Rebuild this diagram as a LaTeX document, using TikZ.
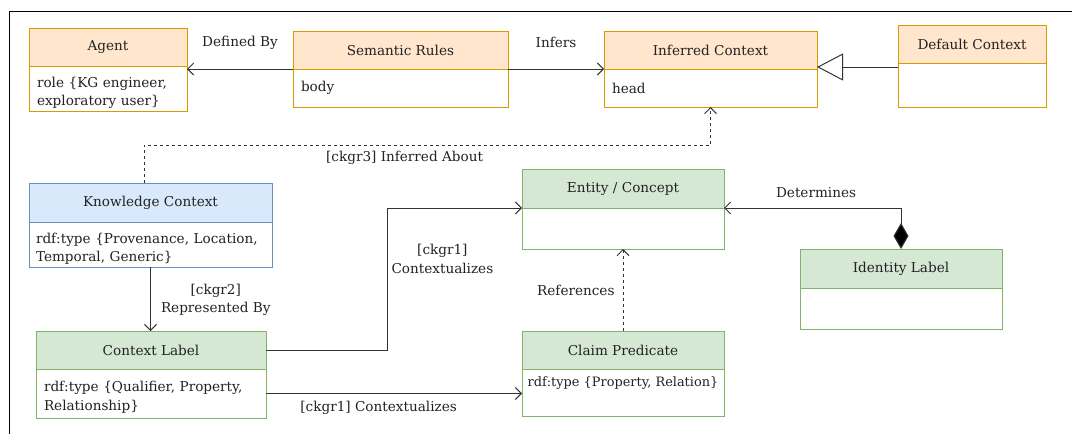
\documentclass[tikz,border=0pt]{standalone}
\usepackage{fontspec}
\setmainfont{DejaVu Serif}
\usetikzlibrary{arrows.meta, positioning}

\definecolor{orngfill}{HTML}{FFE6CC}
\definecolor{orngline}{HTML}{D79B00}
\definecolor{bluefill}{HTML}{DAE8FC}
\definecolor{blueline}{HTML}{6C8EBF}
\definecolor{grnfill}{HTML}{D5E8D4}
\definecolor{grnline}{HTML}{82B366}
\definecolor{linegray}{HTML}{333333}
\definecolor{txt}{HTML}{222222}

\tikzset{
  hdr/.style={draw=#1line, fill=#1fill, line width=1pt, inner sep=0pt, outer sep=0pt, minimum height=38pt},
  bdy/.style={draw=#1line, fill=white, line width=1pt, inner xsep=8pt, inner ysep=0pt, outer sep=0pt, align=left},
  conn/.style={draw=linegray, line width=1pt, -{Straight Barb[length=6pt,width=12pt]}},
  dconn/.style={conn, dash pattern=on 3pt off 3pt},
  lbl/.style={text=txt, align=center, inner sep=2pt},
}

\begin{document}
\begin{tikzpicture}[x=1pt, y=-1pt, font=\fontsize{13.6}{18.5}\selectfont, text=txt]

\useasboundingbox (0,0) rectangle (1072,434);
\draw[line width=1pt] (9,434) -- (9,11) -- (1072,11);

% top row
\node[hdr=orng, minimum width=158pt] (agent) at (108,47) {Agent};
\node[bdy=orng, text width=142pt, minimum height=45pt, below=0pt of agent] (agentb) {\rule{0pt}{19pt}role \{KG engineer,\\exploratory user\}};

\node[hdr=orng, minimum width=215pt] (sem) at (400.5,50) {Semantic Rules};
\node[bdy=orng, text width=199pt, minimum height=38pt, below=0pt of sem] (semb) {body};

\node[hdr=orng, minimum width=213pt] (inf) at (710.5,50) {Inferred Context};
\node[bdy=orng, text width=197pt, minimum height=38pt, below=0pt of inf] (infb) {head};

\node[hdr=orng, minimum width=148pt] (dflt) at (972,44) {Default Context};
\node[bdy=orng, text width=132pt, minimum height=44pt, below=0pt of dflt] (dfltb) {};

% left column
\node[hdr=blue, minimum width=243pt, minimum height=39pt] (kc) at (150.5,202.5) {Knowledge Context};
\node[bdy=blue, text width=229pt, inner xsep=7pt, minimum height=45pt, below=0pt of kc] (kcb) {\rule{0pt}{19pt}rdf:type \{Provenance, Location,\\Temporal, Generic\}};

\node[hdr=grn, minimum width=230pt] (cl) at (151,350) {Context Label};
\node[bdy=grn, text width=214pt, minimum height=49pt, below=0pt of cl] (clb) {\rule{0pt}{18pt}rdf:type \{Qualifier, Property,\\Relationship\}};

% green classes on the right
\node[hdr=grn, minimum width=202pt, minimum height=39pt] (ent) at (623,188.5) {Entity / Concept};
\node[bdy=grn, text width=186pt, minimum height=41pt, below=0pt of ent] (entb) {};

\node[hdr=grn, minimum width=202pt, minimum height=39pt] (idl) at (901,268.5) {Identity Label};
\node[bdy=grn, text width=186pt, minimum height=41pt, below=0pt of idl] (idlb) {};

\node[hdr=grn, minimum width=202pt] (cp) at (623,350) {Claim Predicate};
\node[bdy=grn, inner xsep=3pt, minimum width=202pt, minimum height=47pt, below=0pt of cp,
  font=\fontsize{12.9}{18.5}\selectfont] (cpb) {rdf:type \{Property, Relation\}\rule[-22pt]{0pt}{22pt}};

% connectors
\draw[conn] (sem.south west) -- (sem.south west -| agent.east)
  node[lbl, midway, above=17pt] (defby) {Defined By};
\draw[conn] (sem.south east) -- (sem.south east -| inf.west)
  node[lbl, midway, above=19pt] (infers) {Infers};
\draw[draw=linegray, line width=1pt, -{Triangle[open, length=26pt, width=27pt]}]
  ([yshift=-4pt]dflt.south west) -- ([yshift=-4pt]dflt.south west -| inf.east);

\coordinate (bend) at (144,145);
\draw[dconn] (kc.north -| bend) -- (bend) -| (infb.south)
  node[lbl, pos=0.23, below=4pt] (infab) {[ckgr3] Inferred About};

\draw[conn] (kcb.south) -- (kcb.south |- cl.north)
  node[lbl, midway, right=8pt, yshift=-1pt] (repby) {[ckgr2]\\Represented By};

\coordinate (turn) at (387,0);
\draw[conn] (cl.east) -| node[lbl, pos=0.82, right=2pt] (ctx1) {[ckgr1]\\Contextualizes}
  (turn |- ent.south west) -- (ent.south west);
\draw[conn] (clb.east) -- (clb.east -| cpb.west)
  node[lbl, pos=0.44, below=5pt] (ctx2) {[ckgr1] Contextualizes};

\draw[dconn] (cp.north) -- (entb.south)
  node[lbl, midway, left=6pt] (refs) {References};

\draw[draw=linegray, line width=1pt, {Diamond[length=26pt, width=15pt, fill=black]}-{Straight Barb[length=6pt,width=12pt]}]
  (idl.north) |- (ent.south east)
  node[lbl, pos=0.74, above=8pt] (determ) {Determines};

\end{tikzpicture}
\end{document}
